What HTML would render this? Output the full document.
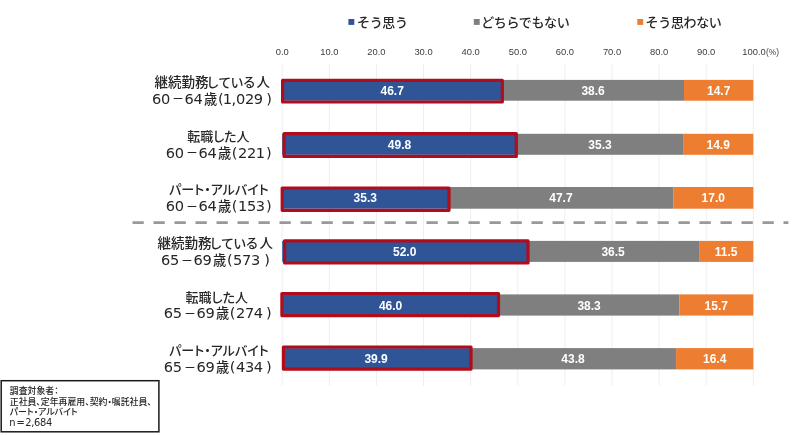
<!DOCTYPE html>
<html lang="ja"><head><meta charset="utf-8"><title>chart</title>
<style>
html,body{margin:0;padding:0;background:#fff;}
body{width:797px;height:435px;overflow:hidden;}
svg{display:block;}
.jp{font-family:"Liberation Sans","Noto Sans CJK JP",sans-serif;font-weight:500;}
.pj{font-family:"Liberation Sans","Noto Sans CJK JP",sans-serif;font-feature-settings:"palt";font-weight:500;}
.la{font-family:"Liberation Sans",sans-serif;}
.dv{font-family:"DejaVu Sans","Liberation Sans",sans-serif;letter-spacing:-0.3px;}
</style></head><body>
<svg width="797" height="435" viewBox="0 0 797 435">
<rect x="0" y="0" width="797" height="435" fill="#ffffff"/>
<g stroke="#eeeeee" stroke-width="1">
<line x1="282.2" y1="64" x2="282.2" y2="385.6"/>
<line x1="329.3" y1="64" x2="329.3" y2="385.6"/>
<line x1="376.4" y1="64" x2="376.4" y2="385.6"/>
<line x1="423.5" y1="64" x2="423.5" y2="385.6"/>
<line x1="470.6" y1="64" x2="470.6" y2="385.6"/>
<line x1="517.8" y1="64" x2="517.8" y2="385.6"/>
<line x1="564.9" y1="64" x2="564.9" y2="385.6"/>
<line x1="612.0" y1="64" x2="612.0" y2="385.6"/>
<line x1="659.1" y1="64" x2="659.1" y2="385.6"/>
<line x1="706.2" y1="64" x2="706.2" y2="385.6"/>
<line x1="753.3" y1="64" x2="753.3" y2="385.6"/>
</g>
<g class="la" font-size="9.4" fill="#3c3c3c" text-anchor="middle">
<text x="282.2" y="55.4">0.0</text>
<text x="329.3" y="55.4">10.0</text>
<text x="376.4" y="55.4">20.0</text>
<text x="423.5" y="55.4">30.0</text>
<text x="470.6" y="55.4">40.0</text>
<text x="517.8" y="55.4">50.0</text>
<text x="564.9" y="55.4">60.0</text>
<text x="612.0" y="55.4">70.0</text>
<text x="659.1" y="55.4">80.0</text>
<text x="706.2" y="55.4">90.0</text>
</g>
<text class="la" font-size="9.4" fill="#3c3c3c" x="742.3" y="55.4">100.0<tspan font-size="8.3" dx="0.3" dy="-0.2">(%)</tspan></text>
<g class="jp" font-size="13" fill="#262626" letter-spacing="-0.35">
<rect x="348.4" y="19" width="5.9" height="5.9" fill="#2f5597"/>
<text x="357" y="27.3">そう思う</text>
<rect x="473.8" y="19" width="5.9" height="5.9" fill="#7f7f7f"/>
<text x="481.2" y="27.3">どちらでもない</text>
<rect x="637.3" y="19" width="5.9" height="5.9" fill="#ed7d31"/>
<text x="645.6" y="27.3">そう思わない</text>
</g>
<rect x="282.2" y="79.9" width="220.0" height="20.8" fill="#2f5597"/>
<rect x="502.2" y="79.9" width="181.8" height="20.8" fill="#7f7f7f"/>
<rect x="684.0" y="79.9" width="69.3" height="20.8" fill="#ed7d31"/>
<text class="la" font-size="12" font-weight="bold" fill="#ffffff" text-anchor="middle" x="392.2" y="94.8">46.7</text>
<text class="la" font-size="12" font-weight="bold" fill="#ffffff" text-anchor="middle" x="593.1" y="94.8">38.6</text>
<text class="la" font-size="12" font-weight="bold" fill="#ffffff" text-anchor="middle" x="718.7" y="94.8">14.7</text>
<rect x="282.6" y="80.4" width="219.7" height="21.6" fill="none" stroke="#b00c1c" stroke-width="3.2" stroke-linejoin="round"/>
<rect x="282.2" y="133.8" width="234.6" height="21.0" fill="#2f5597"/>
<rect x="516.8" y="133.8" width="166.3" height="21.0" fill="#7f7f7f"/>
<rect x="683.1" y="133.8" width="70.2" height="21.0" fill="#ed7d31"/>
<text class="la" font-size="12" font-weight="bold" fill="#ffffff" text-anchor="middle" x="399.5" y="148.8">49.8</text>
<text class="la" font-size="12" font-weight="bold" fill="#ffffff" text-anchor="middle" x="600.0" y="148.8">35.3</text>
<text class="la" font-size="12" font-weight="bold" fill="#ffffff" text-anchor="middle" x="718.2" y="148.8">14.9</text>
<rect x="284.1" y="133.7" width="232.2" height="22.7" fill="none" stroke="#b00c1c" stroke-width="3.2" stroke-linejoin="round"/>
<rect x="282.2" y="187.0" width="166.3" height="21.7" fill="#2f5597"/>
<rect x="448.5" y="187.0" width="224.7" height="21.7" fill="#7f7f7f"/>
<rect x="673.2" y="187.0" width="80.1" height="21.7" fill="#ed7d31"/>
<text class="la" font-size="12" font-weight="bold" fill="#ffffff" text-anchor="middle" x="365.3" y="202.3">35.3</text>
<text class="la" font-size="12" font-weight="bold" fill="#ffffff" text-anchor="middle" x="560.9" y="202.3">47.7</text>
<text class="la" font-size="12" font-weight="bold" fill="#ffffff" text-anchor="middle" x="713.3" y="202.3">17.0</text>
<rect x="282.2" y="188.0" width="166.8" height="22.3" fill="none" stroke="#b00c1c" stroke-width="3.2" stroke-linejoin="round"/>
<rect x="282.2" y="240.9" width="245.0" height="21.0" fill="#2f5597"/>
<rect x="527.2" y="240.9" width="172.0" height="21.0" fill="#7f7f7f"/>
<rect x="699.1" y="240.9" width="54.2" height="21.0" fill="#ed7d31"/>
<text class="la" font-size="12" font-weight="bold" fill="#ffffff" text-anchor="middle" x="404.7" y="255.9">52.0</text>
<text class="la" font-size="12" font-weight="bold" fill="#ffffff" text-anchor="middle" x="613.1" y="255.9">36.5</text>
<text class="la" font-size="12" font-weight="bold" fill="#ffffff" text-anchor="middle" x="726.2" y="255.9">11.5</text>
<rect x="284.6" y="240.8" width="243.4" height="22.1" fill="none" stroke="#b00c1c" stroke-width="3.2" stroke-linejoin="round"/>
<rect x="282.2" y="294.4" width="216.7" height="21.2" fill="#2f5597"/>
<rect x="498.9" y="294.4" width="180.4" height="21.2" fill="#7f7f7f"/>
<rect x="679.3" y="294.4" width="74.0" height="21.2" fill="#ed7d31"/>
<text class="la" font-size="12" font-weight="bold" fill="#ffffff" text-anchor="middle" x="390.6" y="309.5">46.0</text>
<text class="la" font-size="12" font-weight="bold" fill="#ffffff" text-anchor="middle" x="589.1" y="309.5">38.3</text>
<text class="la" font-size="12" font-weight="bold" fill="#ffffff" text-anchor="middle" x="716.3" y="309.5">15.7</text>
<rect x="281.9" y="293.5" width="216.6" height="22.1" fill="none" stroke="#b00c1c" stroke-width="3.2" stroke-linejoin="round"/>
<rect x="282.2" y="348.1" width="187.8" height="21.3" fill="#2f5597"/>
<rect x="470.0" y="348.1" width="206.1" height="21.3" fill="#7f7f7f"/>
<rect x="676.1" y="348.1" width="77.2" height="21.3" fill="#ed7d31"/>
<text class="la" font-size="12" font-weight="bold" fill="#ffffff" text-anchor="middle" x="376.1" y="363.2">39.9</text>
<text class="la" font-size="12" font-weight="bold" fill="#ffffff" text-anchor="middle" x="573.0" y="363.2">43.8</text>
<text class="la" font-size="12" font-weight="bold" fill="#ffffff" text-anchor="middle" x="714.7" y="363.2">16.4</text>
<rect x="283.4" y="347.0" width="187.6" height="22.1" fill="none" stroke="#b00c1c" stroke-width="3.2" stroke-linejoin="round"/>
<line x1="132.5" y1="222.6" x2="788.4" y2="222.6" stroke="#999999" stroke-width="2.8" stroke-dasharray="11.3 9.7"/>
<g fill="#262626">
<text class="jp" y="86.9"><tspan font-size="13.5" x="154.5">継続勤務</tspan><tspan font-size="13" letter-spacing="-0.75" x="206.3">している</tspan><tspan font-size="13.5" x="256.6">人</tspan></text>
<text y="103.7"><tspan class="dv" font-size="14.6" x="151.9">60</tspan><tspan class="jp" font-size="12" font-weight="700" x="172.0" dy="-0.3">－</tspan><tspan class="dv" font-size="14.6" x="184.6" dy="0.3">64</tspan><tspan class="jp" font-size="13.2" x="204.1">歳</tspan><tspan class="dv" font-size="14.6" x="217.9">(</tspan><tspan class="dv" font-size="14.6" x="222.7">1</tspan><tspan class="dv" font-size="14.6" x="231.4">,</tspan><tspan class="dv" font-size="14.6" x="235.9">029</tspan><tspan class="dv" font-size="14.6" x="266.3">)</tspan></text>
<text class="pj" font-size="13" text-anchor="middle" x="218.4" y="140.9">転職した人</text>
<text y="157.7"><tspan class="dv" font-size="14.6" x="165.8">60</tspan><tspan class="jp" font-size="12" font-weight="700" x="185.9" dy="-0.3">－</tspan><tspan class="dv" font-size="14.6" x="198.5" dy="0.3">64</tspan><tspan class="jp" font-size="13.2" x="218.0">歳</tspan><tspan class="dv" font-size="14.6" x="231.8">(</tspan><tspan class="dv" font-size="14.6" x="237.9">221</tspan><tspan class="dv" font-size="14.6" x="266.1">)</tspan></text>
<text class="pj" font-size="13" text-anchor="middle" x="218.9" y="194.4">パート・アルバイト</text>
<text y="211.2"><tspan class="dv" font-size="14.6" x="165.8">60</tspan><tspan class="jp" font-size="12" font-weight="700" x="185.9" dy="-0.3">－</tspan><tspan class="dv" font-size="14.6" x="198.5" dy="0.3">64</tspan><tspan class="jp" font-size="13.2" x="218.0">歳</tspan><tspan class="dv" font-size="14.6" x="231.8">(</tspan><tspan class="dv" font-size="14.6" x="237.9">153</tspan><tspan class="dv" font-size="14.6" x="265.9">)</tspan></text>
<text class="jp" y="248.0"><tspan font-size="13.5" x="157.4">継続勤務</tspan><tspan font-size="13" letter-spacing="-0.75" x="209.2">している</tspan><tspan font-size="13.5" x="259.5">人</tspan></text>
<text y="264.8"><tspan class="dv" font-size="14.6" x="160.9">65</tspan><tspan class="jp" font-size="12" font-weight="700" x="181.0" dy="-0.3">－</tspan><tspan class="dv" font-size="14.6" x="193.6" dy="0.3">69</tspan><tspan class="jp" font-size="13.2" x="213.1">歳</tspan><tspan class="dv" font-size="14.6" x="226.9">(</tspan><tspan class="dv" font-size="14.6" x="233.0">573</tspan><tspan class="dv" font-size="14.6" x="264.3">)</tspan></text>
<text class="pj" font-size="13" text-anchor="middle" x="216.8" y="301.6">転職した人</text>
<text y="318.4"><tspan class="dv" font-size="14.6" x="163.8">65</tspan><tspan class="jp" font-size="12" font-weight="700" x="183.9" dy="-0.3">－</tspan><tspan class="dv" font-size="14.6" x="196.5" dy="0.3">69</tspan><tspan class="jp" font-size="13.2" x="216.0">歳</tspan><tspan class="dv" font-size="14.6" x="229.8">(</tspan><tspan class="dv" font-size="14.6" x="235.9">274</tspan><tspan class="dv" font-size="14.6" x="265.9">)</tspan></text>
<text class="pj" font-size="13" text-anchor="middle" x="218.9" y="355.4">パート・アルバイト</text>
<text y="372.1"><tspan class="dv" font-size="14.6" x="163.8">65</tspan><tspan class="jp" font-size="12" font-weight="700" x="183.9" dy="-0.3">－</tspan><tspan class="dv" font-size="14.6" x="196.5" dy="0.3">69</tspan><tspan class="jp" font-size="13.2" x="216.0">歳</tspan><tspan class="dv" font-size="14.6" x="229.8">(</tspan><tspan class="dv" font-size="14.6" x="235.9">434</tspan><tspan class="dv" font-size="14.6" x="265.9">)</tspan></text>
</g>
<rect x="1.2" y="380.7" width="157.7" height="51.1" fill="#ffffff" stroke="#1a1a1a" stroke-width="1.5"/>
<g class="pj" font-size="8.9" fill="#262626">
<text x="9.8" y="394.0">調査対象者：</text>
<text x="9.8" y="404.7">正社員、定年再雇用、契約・嘱託社員、</text>
<text x="9.8" y="415.4">パート・アルバイト</text>
<text class="dv" font-size="9.9" font-weight="400" y="425.9"><tspan x="9.2">n</tspan><tspan x="16.4">=</tspan><tspan x="25.2">2,684</tspan></text>
</g>
</svg>
</body></html>
